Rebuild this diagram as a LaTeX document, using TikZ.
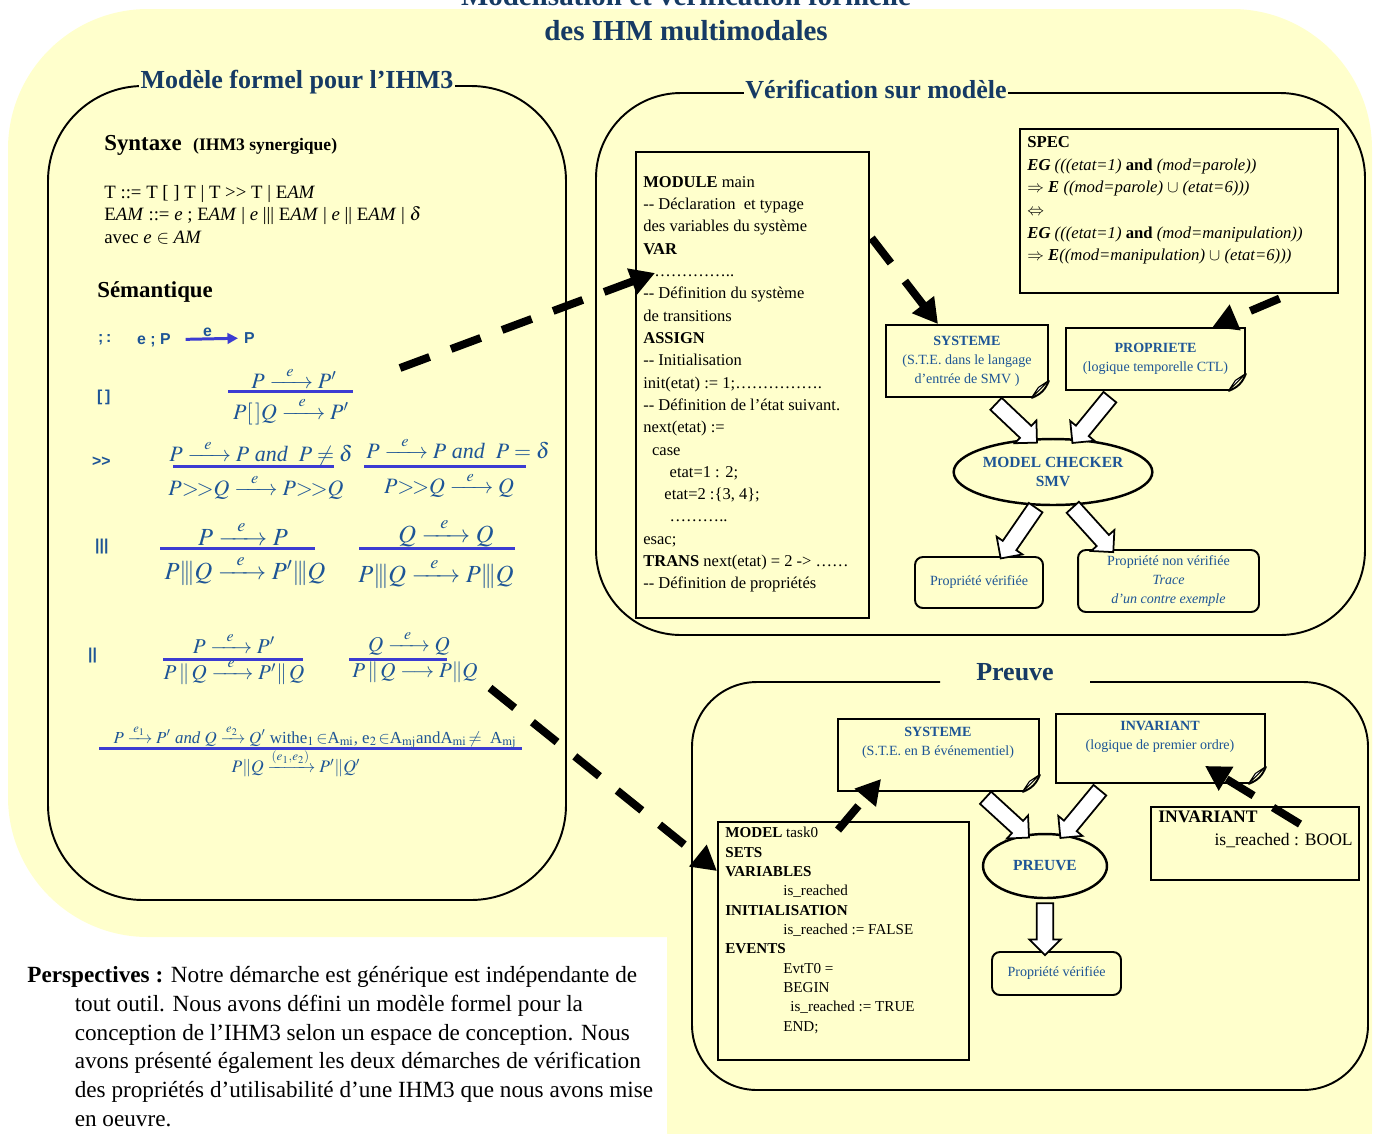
\documentclass[tikz,border=0pt]{standalone}
\usepackage{amsmath}
\usepackage{mathptmx}
\usepackage{fontspec}
\setmainfont{Liberation Serif}
\setsansfont{Liberation Sans}
\usetikzlibrary{arrows.meta,calc,shapes.geometric,shapes.arrows}
\definecolor{bgyellow}{RGB}{255,255,204}
\definecolor{titleblue}{RGB}{22,58,100}
\definecolor{textblue}{RGB}{30,85,150}
\definecolor{fracblue}{RGB}{60,60,210}
\newcommand{\lto}[2][1.4em]{\xrightarrow{\makebox[#1]{$\scriptstyle #2$}}}
\newcommand{\fatlink}[2]{%
  \path let \p1=#1, \p2=#2, \n1={veclen(\x2-\x1,\y2-\y1)} in
    #1 -- #2 node[fatarrow, midway, sloped, allow upside down, minimum height=\n1] {};}
\tikzset{
  panel/.style={draw, line width=1.1pt},
  paneltitle/.style={fill=bgyellow, text=titleblue, inner xsep=1pt, inner ysep=0pt,
    font=\fontsize{14.8}{17}\selectfont\bfseries},
  codebox/.style={draw, line width=0.9pt, inner sep=0pt},
  notebox/.style={draw, line width=1.1pt, text=textblue, align=center, inner sep=0pt,
    font=\fontsize{8}{10.8}\selectfont},
  okbox/.style={draw, line width=1.1pt, rounded corners=4.5pt, text=textblue, align=center,
    inner sep=0pt, font=\fontsize{8}{10.8}\selectfont},
  checker/.style={draw, ellipse, line width=1.4pt, text=textblue, align=center, inner sep=0pt,
    font=\fontsize{8.8}{11}\selectfont\bfseries},
  fatarrow/.style={single arrow, draw, fill=white, line width=1pt, inner xsep=0pt,
    inner ysep=4.2pt, single arrow head extend=4.2pt},
  dasharrow/.style={line width=4.5pt, dash pattern=on 18pt off 13pt,
    -{Triangle[length=14pt,width=15pt]}},
  fracline/.style={fracblue, line width=1.7pt},
  semop/.style={text=textblue, anchor=west, font=\sffamily\bfseries\fontsize{9}{11}\selectfont},
  semrule/.style={text=textblue, inner sep=0pt}
}
\begin{document}
\begin{tikzpicture}[x=0.02cm, y=-0.02cm]
\useasboundingbox (0,0) rectangle (1385,1133);
% fond
\fill[bgyellow, rounded corners=2.8cm] (8,9) rectangle (1372,937);
\fill[bgyellow, rounded corners=0.6cm] (667,600) rectangle (1372,1160);
\node[anchor=south, align=center, inner sep=0pt, text=titleblue,
  font=\fontsize{16.5}{20}\selectfont\bfseries] (title) at (686,41)
  {Modélisation et vérification formelle\\des IHM multimodales};

% cadres
\draw[panel, rounded corners=1.9cm] (48,86) rectangle (566,900);
\draw[panel, rounded corners=1.7cm] (596,93) rectangle (1365,635);
\draw[panel, rounded corners=1.3cm] (940,682) -- (692,682) -- (692,1090) -- (1368,1090) -- (1368,682) -- (1090,682);
\node[paneltitle] (tmod) at (297,82) {Modèle formel pour l’IHM3};
\node[paneltitle] (tver) at (876,90) {Vérification sur modèle};
\node[paneltitle] (tpre) at (1015,672) {Preuve};

% syntaxe
\node[anchor=west, inner sep=0pt, font=\fontsize{13}{15}\selectfont\bfseries] (syn) at (104,145)
  {Syntaxe\ \ {\fontsize{10}{12}\selectfont (IHM3 synergique)}};
\node[anchor=north west, align=left, inner sep=0pt, font=\fontsize{10.7}{12.7}\selectfont] (gram) at (104,185)
  {T ::= T [ ] T | T >{}> T | E\textit{AM}\\
   E\textit{AM} ::= \textit{e} ; E\textit{AM} | \textit{e} ||| E\textit{AM} | \textit{e} || E\textit{AM} | $\delta$\\
   avec \textit{e} $\in$ \textit{AM}};
\node[anchor=west, inner sep=0pt, font=\fontsize{13}{15}\selectfont\bfseries] (sem) at (97,292) {Sémantique};

% semantique
\foreach \x/\y/\op in {92/340/{;\,:}, 91/397/{[\,]}, 86/462/{>{}>}, 89/547/{|||}, 82/656/{||}}
  \node[semop] (op\y) at (\x,\y) {\op};
\node[semop] (seqa) at (131,340) {e ; P};
\node[semop] (seqb) at (238,338) {P};
\draw[line width=1.7pt, fracblue, shorten <=5pt, -{Triangle[length=6pt,width=6pt]}] (seqa) -- (seqb)
  node[midway, semop, anchor=south, above=-3pt] (seqe) {e};

\foreach \xa/\xb/\yl in {228/353/391, 173/334/466, 364/526/466, 160/315/548,
  359/515/548, 163/303/659, 349/447/659, 99/522/748}
  \draw[fracline] (\xa,\yl) -- (\xb,\yl);

\node[semrule, font=\fontsize{12.5}{15}\selectfont] (chAn) at (294,378) {$P\lto{e}P'$};
\node[semrule, font=\fontsize{12.5}{15}\selectfont] (chAd) at (291,411) {$P[\,]Q\lto{e}P'$};
\node[semrule, font=\fontsize{12.5}{15}\selectfont] (seBn) at (261,453) {$P\lto{e}P$ \textit{and}\ \ $P\neq\delta$};
\node[semrule, font=\fontsize{12.5}{15}\selectfont] (seBd) at (256,487) {$P{>}\!{>}Q\lto{e}P{>}\!{>}Q$};
\node[semrule, font=\fontsize{12.5}{15}\selectfont] (seCn) at (458,448) {$P\lto{e}P$ \textit{and}\ \ $P=\delta$};
\node[semrule, font=\fontsize{12.5}{15}\selectfont] (seCd) at (449,485) {$P{>}\!{>}Q\lto{e}Q$};
\node[semrule, font=\fontsize{14}{16}\selectfont] (inDn) at (243,533) {$P\lto{e}P$};
\node[semrule, font=\fontsize{14}{16}\selectfont] (inDd) at (245,570) {$P|\!|\!|Q\lto{e}P'|\!|\!|Q$};
\node[semrule, font=\fontsize{14}{16}\selectfont] (inEn) at (446,533) {$Q\lto{e}Q$};
\node[semrule, font=\fontsize{14}{16}\selectfont] (inEd) at (436,573) {$P|\!|\!|Q\lto{e}P|\!|\!|Q$};
\node[semrule, font=\fontsize{12}{14}\selectfont] (paFn) at (234,643) {$P\lto{e}P'$};
\node[semrule, font=\fontsize{12}{14}\selectfont] (paFd) at (234,672) {$P\,\|\,Q\lto{e}P'\|\,Q$};
\node[semrule, font=\fontsize{12}{14}\selectfont] (paGn) at (409,643) {$Q\lto{e}Q$};
\node[semrule, font=\fontsize{12}{14}\selectfont] (paGd) at (415,672) {$P\,\|\,Q\longrightarrow P\|Q$};
\node[semrule, font=\fontsize{9.6}{12}\selectfont] (syHn) at (315,737)
  {$P\lto[0.9em]{e_1}P'$ \textit{and} $Q\lto[0.9em]{e_2}Q'$ withe$_1\!\in$A$_{\mathrm{mi}}$, e$_2\!\in$A$_{\mathrm{mj}}$andA$_{\mathrm{mi}}\!\neq$\ \ A$_{\mathrm{mj}}$};
\node[semrule, font=\fontsize{10}{12}\selectfont] (syHd) at (296,763) {$P\|Q\xrightarrow{(e_1,e_2)}P'\|Q'$};

% verification sur modele
\node[codebox, anchor=north west, minimum width=4.66cm, minimum height=9.32cm] (smv) at (635,151) {};
\node[anchor=north west, align=left, inner sep=0pt, font=\fontsize{9.4}{12.7}\selectfont] (smvtxt) at (643,176)
  {\textbf{MODULE} main\\
   -{}- Déclaration\ \ et typage\\
   des variables du système\\
   \textbf{VAR}\\
   ……………..\\
   -{}- Définition du système\\
   de transitions\\
   \textbf{ASSIGN}\\
   -{}- Initialisation\\
   init(etat) := 1;…………….\\
   -{}- Définition de l’état suivant.\\
   next(etat) :=\\
   \hspace*{5pt}case\\
   \hspace*{15pt}etat=1 : 2;\\
   \hspace*{12pt}etat=2 :\{3, 4\};\\
   \hspace*{15pt}………..\\
   esac;\\
   \textbf{TRANS} next(etat) = 2 -> ……\\
   -{}- Définition de propriétés};
\node[codebox, anchor=north west, minimum width=6.36cm, minimum height=3.28cm] (spec) at (1019,128) {};
\node[anchor=north west, align=left, inner sep=0pt, font=\fontsize{9.5}{12.9}\selectfont] (spectxt) at (1027,136)
  {\textbf{SPEC}\\
   \textbf{\textit{EG}} \textit{(((etat=1)} \textbf{and} \textit{(mod=parole))}\\
   $\Rightarrow$\ \textbf{\textit{E}} \textit{((mod=parole)} $\cup$ \textit{(etat=6)))}\\
   $\boldsymbol{\Leftrightarrow}$\\
   \textbf{\textit{EG}} \textit{(((etat=1)} \textbf{and} \textit{(mod=manipulation))}\\
   $\Rightarrow$\ \textbf{\textit{E}}\textit{((mod=manipulation)} $\cup$ \textit{(etat=6)))}};
\node[notebox, minimum width=3.24cm, minimum height=1.44cm] (sysA) at (967,361)
  {\textbf{SYSTEME}\\(S.T.E. dans le langage\\d’entrée de SMV )};
\node[notebox, minimum width=3.58cm, minimum height=1.24cm] (prop) at (1155.5,359)
  {\textbf{PROPRIETE}\\(logique temporelle CTL)};
\node[checker, minimum width=3.52cm, minimum height=1.32cm] (mc) at (1053,472) {MODEL CHECKER\\SMV};
\node[okbox, minimum width=2.56cm, minimum height=1.02cm] (okA) at (979,582.5) {Propriété vérifiée};
\node[okbox, minimum width=3.62cm, minimum height=1.24cm] (nok) at (1168.5,581)
  {Propriété non vérifiée\\\textit{Trace}\\\textit{d’un contre exemple}};

% preuve
\node[notebox, minimum width=4.02cm, minimum height=1.44cm] (sysB) at (938.5,755) {};
\node[notebox, draw=none] (sysBtxt) at (938,743) {\textbf{SYSTEME}\\(S.T.E. en B événementiel)};
\node[notebox, minimum width=4.18cm, minimum height=1.38cm] (invA) at (1160.5,748.5) {};
\node[notebox, draw=none] (invAtxt) at (1160,737) {\textbf{INVARIANT}\\(logique de premier ordre)};
\node[checker, minimum width=2.48cm, minimum height=1.28cm] (preuve) at (1045,866) {PREUVE};
\node[okbox, minimum width=2.58cm, minimum height=0.86cm] (okB) at (1056.5,973.5) {Propriété vérifiée};
\node[codebox, anchor=north west, minimum width=5.02cm, minimum height=4.76cm] (bmodel) at (717,821) {};
\node[anchor=north west, align=left, inner sep=0pt, font=\fontsize{8.6}{11}\selectfont] (bmodeltxt) at (725,827)
  {\textbf{MODEL} task0\\
   \textbf{SETS}\\
   \textbf{VARIABLES}\\
   \hspace*{33pt}is\_reached\\
   \textbf{INITIALISATION}\\
   \hspace*{33pt}is\_reached := FALSE\\
   \textbf{EVENTS}\\
   \hspace*{33pt}EvtT0 =\\
   \hspace*{33pt}BEGIN\\
   \hspace*{37pt}is\_reached := TRUE\\
   \hspace*{33pt}END;};
\node[codebox, anchor=north west, minimum width=4.16cm, minimum height=1.46cm] (invB) at (1150,806) {};
\node[anchor=north west, align=left, inner sep=0pt, font=\fontsize{10}{13}\selectfont] (invBtxt) at (1158,811)
  {\textbf{INVARIANT}\\\hspace*{32pt}is\_reached : BOOL};

% coins plies
\foreach \n in {sysA,prop,sysB,invA} {
  \fill[bgyellow] ([xshift=-11pt,yshift=-1pt]\n.south east) -- ([xshift=1pt,yshift=-1pt]\n.south east)
    -- ([xshift=1pt,yshift=11pt]\n.south east) -- cycle;
  \draw[line width=1.1pt] ([xshift=-10pt]\n.south east) to[bend right=25] ([yshift=10pt]\n.south east);
  \filldraw[fill=white, line width=0.6pt] ([xshift=-10pt]\n.south east) -- ([xshift=-6pt,yshift=6pt]\n.south east)
    -- ([yshift=10pt]\n.south east) -- cycle;
}

% fleches creuses
\fatlink{($(sysA.south)+(26,3)$)}{($(mc.north)+(-19,2)$)}
\fatlink{($(prop.south)+(-43,3)$)}{($(mc.north)+(22,2)$)}
\fatlink{($(mc.south)+(-15,-2)$)}{($(okA.north)+(24,-1)$)}
\fatlink{($(mc.south)+(17,-2)$)}{($(nok.north)+(-58,0)$)}
\fatlink{($(sysB.south)+(44,3)$)}{($(preuve.north)+(-19,2)$)}
\fatlink{($(invA.south)+(-58,3)$)}{($(preuve.north)+(18,2)$)}
\fatlink{(preuve.south)}{(preuve.south |- okB.north)}

% fleches pointillees
\coordinate (semA) at (400,368);
\coordinate (semB) at (490,688);
\draw[dasharrow] (semA) -- ($(smv.north west)+(20,122)$);
\draw[dasharrow] ($(smv.north east)+(2,87)$) -- ($(sysA.north)+(-29,0)$);
\draw[dasharrow] ($(spec.south east)+(-59,5)$) -- ($(prop.north)+(57,0)$);
\draw[dasharrow] (semB) -- ($(bmodel.north west)+(0,50)$);
\draw[dasharrow] ($(bmodel.north west)+(121,9)$) -- ($(sysB.south west)+(44,-13)$);
\draw[dasharrow] ($(invB.north west)+(150,18)$) -- ($(invA.south west)+(150,-18)$);

% perspectives
\node[anchor=north west, align=left, inner sep=0pt, font=\fontsize{13.2}{16.4}\selectfont] (persp) at (27,966)
  {\textbf{Perspectives :} Notre démarche est générique est indépendante de\\
   \hspace*{27pt}tout outil. Nous avons défini un modèle formel pour la\\
   \hspace*{27pt}conception de l’IHM3 selon un espace de conception. Nous\\
   \hspace*{27pt}avons présenté également les deux démarches de vérification\\
   \hspace*{27pt}des propriétés d’utilisabilité d'une IHM3 que nous avons mise\\
   \hspace*{27pt}en oeuvre.};
\end{tikzpicture}
\end{document}
